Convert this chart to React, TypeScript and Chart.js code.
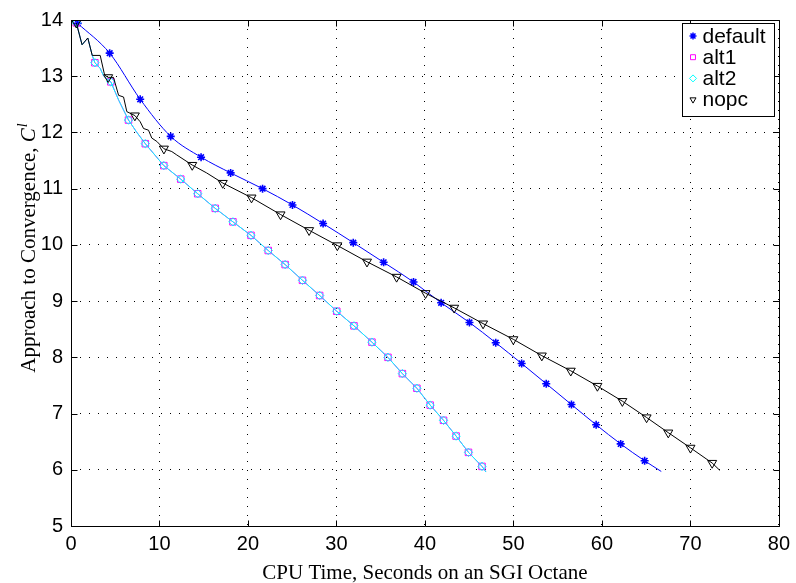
import React, { useEffect, useRef } from 'react';
import { Chart, registerables } from 'chart.js';

Chart.register(...registerables);

// ---------- data ----------
const xTicks = [0, 10, 20, 30, 40, 50, 60, 70, 80];
const yTicks = [5, 6, 7, 8, 9, 10, 11, 12, 13, 14];
const seriesNames = ['default', 'alt1', 'alt2', 'nopc'];

const defaultX = [0.76, 4.37, 7.82, 11.27, 14.7, 18.04, 21.65, 25.03, 28.49, 31.9, 35.33, 38.71, 41.83, 45.03, 48.0, 50.93, 53.71, 56.56, 59.35, 62.12, 64.83, 66.71];
const defaultY = [13.94, 13.41, 12.59, 11.93, 11.56, 11.28, 11.0, 10.71, 10.38, 10.04, 9.69, 9.34, 8.97, 8.62, 8.26, 7.89, 7.53, 7.16, 6.8, 6.46, 6.16, 5.97];
const defaultMark = [1, 1, 1, 1, 1, 1, 1, 1, 1, 1, 1, 1, 1, 1, 1, 1, 1, 1, 1, 1, 1, 0];

const altX = [0.6, 1.25, 1.9, 2.4, 2.7, 3.3, 3.7, 4.5, 5.4, 6.5, 7.4, 8.4, 10.49, 12.4, 14.32, 16.3, 18.3, 20.34, 22.29, 24.2, 26.16, 28.1, 30.03, 31.98, 34.01, 35.82, 37.45, 39.09, 40.59, 42.1, 43.52, 44.92, 46.45, 46.9];
const altY = [13.95, 13.56, 13.68, 13.37, 13.24, 13.14, 13.0, 12.9, 12.57, 12.22, 12.01, 11.8, 11.41, 11.17, 10.91, 10.65, 10.41, 10.17, 9.9, 9.65, 9.37, 9.1, 8.82, 8.56, 8.27, 8.0, 7.71, 7.45, 7.15, 6.88, 6.6, 6.31, 6.06, 5.96];
const altMark = [1, 0, 0, 0, 1, 0, 0, 1, 0, 1, 0, 1, 1, 1, 1, 1, 1, 1, 1, 1, 1, 1, 1, 1, 1, 1, 1, 1, 1, 1, 1, 1, 1, 0];

const nopcX = [0.6, 1.25, 1.9, 2.4, 3.3, 3.8, 4.2, 4.8, 5.38, 5.94, 6.31, 7.22, 7.82, 8.2, 8.76, 9.13, 9.7, 10.5, 11.39, 11.95, 13.7, 15.33, 17.15, 20.4, 23.68, 26.91, 30.1, 33.45, 36.8, 40.07, 43.3, 46.57, 49.99, 53.21, 56.48, 59.49, 62.31, 65.05, 67.5, 70.01, 72.46, 73.32];
const nopcY = [13.95, 13.56, 13.68, 13.37, 13.37, 13.02, 12.98, 12.98, 12.66, 12.63, 12.37, 12.3, 12.19, 12.07, 12.04, 11.9, 11.84, 11.71, 11.66, 11.6, 11.42, 11.28, 11.1, 10.84, 10.54, 10.26, 9.99, 9.7, 9.43, 9.14, 8.88, 8.6, 8.32, 8.03, 7.76, 7.49, 7.22, 6.93, 6.66, 6.39, 6.12, 5.99];
const nopcMark = [1, 0, 0, 0, 0, 0, 1, 0, 0, 0, 0, 1, 0, 0, 0, 0, 0, 1, 0, 0, 1, 0, 1, 1, 1, 1, 1, 1, 1, 1, 1, 1, 1, 1, 1, 1, 1, 1, 1, 1, 1, 0];

// ---------- styling ----------
const SANS = '"Liberation Sans", Arial, Helvetica, sans-serif';
const SERIF = '"Liberation Serif", "Times New Roman", serif';
const colors = ['#0000ff', '#ff00ff', '#00ffff', '#000000'];
const styles = ['star', 'rect', 'rectRot', 'triangleDown'];

function pts(xs: number[], ys: number[]) {
  return xs.map((x, i) => ({ x, y: ys[i] }));
}

function drawMarker(ctx: CanvasRenderingContext2D, style: string, x: number, y: number, r: number, color: string) {
  ctx.save();
  ctx.strokeStyle = color;
  ctx.lineWidth = 1;
  ctx.beginPath();
  if (style === 'star') {
    ctx.lineWidth = 1.5;
    const d = r * Math.SQRT1_2;
    ctx.moveTo(x - r, y); ctx.lineTo(x + r, y);
    ctx.moveTo(x, y - r); ctx.lineTo(x, y + r);
    ctx.moveTo(x - d, y - d); ctx.lineTo(x + d, y + d);
    ctx.moveTo(x - d, y + d); ctx.lineTo(x + d, y - d);
  } else if (style === 'rect') {
    const s = r * Math.SQRT1_2;
    ctx.rect(x - s, y - s, 2 * s, 2 * s);
  } else if (style === 'rectRot') {
    ctx.moveTo(x, y - r); ctx.lineTo(x + r, y); ctx.lineTo(x, y + r); ctx.lineTo(x - r, y); ctx.closePath();
  } else {
    const h = r * Math.sqrt(3) / 2;
    ctx.moveTo(x - h, y - r / 2); ctx.lineTo(x + h, y - r / 2); ctx.lineTo(x, y + r); ctx.closePath();
  }
  ctx.stroke();
  ctx.restore();
}

const decorPlugin = {
  id: 'decor',
  afterDatasetsDraw(chart: any) {
    const ctx: CanvasRenderingContext2D = chart.ctx;
    const { left, right, top, bottom } = chart.chartArea;
    const xs = chart.scales.x;
    const ys = chart.scales.y;
    const L = Math.round(left) + 0.5, R = Math.round(right) + 0.5;
    const T = Math.round(top) + 0.5, B = Math.round(bottom) + 0.5;
    ctx.save();
    ctx.strokeStyle = '#000';
    ctx.lineWidth = 1;
    ctx.setLineDash([]);
    ctx.beginPath();
    ctx.rect(L, T, R - L, B - T);
    const tl = 6;
    xTicks.forEach((v) => {
      const px = Math.round(xs.getPixelForValue(v)) + 0.5;
      ctx.moveTo(px, B); ctx.lineTo(px, B - tl);
      ctx.moveTo(px, T); ctx.lineTo(px, T + tl);
    });
    yTicks.forEach((v) => {
      const py = Math.round(ys.getPixelForValue(v)) + 0.5;
      ctx.moveTo(L, py); ctx.lineTo(L + tl, py);
      ctx.moveTo(R, py); ctx.lineTo(R - tl, py);
    });
    ctx.stroke();

    // legend
    const bx = 682.5, by = 23.5, bw = 92, bh = 93;
    ctx.fillStyle = '#fff';
    ctx.fillRect(bx, by, bw, bh);
    ctx.strokeRect(bx, by, bw, bh);
    ctx.font = `21px ${SANS}`;
    ctx.fillStyle = '#000';
    ctx.textBaseline = 'middle';
    ctx.textAlign = 'left';
    seriesNames.forEach((name, i) => {
      const ry = 36 + i * 21.2;
      drawMarker(ctx, styles[i], 693, ry, 3.5, colors[i]);
      ctx.fillText(name, 702.5, ry + 1);
    });

    // x title
    ctx.font = `21px ${SERIF}`;
    ctx.textAlign = 'center';
    ctx.textBaseline = 'alphabetic';
    ctx.fillText('CPU Time, Seconds on an SGI Octane', (left + right) / 2, 579);

    // y title (rotated, with italic C and superscript l)
    const main = 'Approach to Convergence, ';
    ctx.font = `21px ${SERIF}`;
    const w1 = ctx.measureText(main).width;
    ctx.font = `italic 21px ${SERIF}`;
    const w2 = ctx.measureText('C').width;
    ctx.font = `italic 14px ${SERIF}`;
    const w3 = ctx.measureText('l').width;
    const total = w1 + w2 + w3 + 1;
    ctx.translate(35, 248);
    ctx.rotate(-Math.PI / 2);
    ctx.textAlign = 'left';
    let cx = -total / 2;
    ctx.font = `21px ${SERIF}`;
    ctx.fillText(main, cx, 0);
    cx += w1;
    ctx.font = `italic 21px ${SERIF}`;
    ctx.fillText('C', cx, 0);
    cx += w2 + 1;
    ctx.font = `italic 14px ${SERIF}`;
    ctx.fillText('l', cx, -8);
    ctx.restore();
  },
};

export default function App() {
  const ref = useRef<HTMLCanvasElement>(null);
  useEffect(() => {
    document.body.style.margin = '0';
    const pr = (m: number[], r: number) => m.map((v) => (v ? r : 0));
    const chart = new Chart(ref.current as HTMLCanvasElement, {
      type: 'line',
      data: {
        datasets: [
          {
            label: seriesNames[0],
            data: pts(defaultX, defaultY),
            borderColor: colors[0],
            borderWidth: 1,
            cubicInterpolationMode: 'monotone',
            pointStyle: 'star',
            pointRadius: pr(defaultMark, 4),
            pointBorderWidth: 1.6,
            pointBorderColor: colors[0],
            pointBackgroundColor: colors[0],
            order: 4,
          },
          {
            label: seriesNames[1],
            data: pts(altX, altY),
            borderColor: colors[1],
            borderWidth: 1,
            tension: 0,
            pointStyle: 'rect',
            pointRadius: pr(altMark, 4.6),
            pointBorderWidth: 1,
            pointBorderColor: colors[1],
            pointBackgroundColor: 'rgba(0,0,0,0)',
            order: 3,
          },
          {
            label: seriesNames[2],
            data: pts(altX, altY),
            borderColor: colors[2],
            borderWidth: 1,
            tension: 0,
            pointStyle: 'rectRot',
            pointRadius: pr(altMark, 4.2),
            pointBorderWidth: 1,
            pointBorderColor: colors[2],
            pointBackgroundColor: 'rgba(0,0,0,0)',
            order: 2,
          },
          {
            label: seriesNames[3],
            data: pts(nopcX, nopcY),
            borderColor: colors[3],
            borderWidth: 1,
            tension: 0,
            pointStyle: 'triangle',
            pointRotation: 180,
            pointRadius: pr(nopcMark, 5.2),
            pointBorderWidth: 1,
            pointBorderColor: colors[3],
            pointBackgroundColor: 'rgba(0,0,0,0)',
            order: 1,
          },
        ],
      } as any,
      options: {
        animation: false,
        responsive: false,
        devicePixelRatio: 1,
        parsing: false as any,
        layout: { padding: { top: 16, right: 14, left: 0, bottom: 0 } },
        plugins: { legend: { display: false }, tooltip: { enabled: false } },
        events: [],
        scales: {
          x: {
            type: 'linear',
            min: 0,
            max: 80,
            afterFit: (s: any) => { s.height = 57; },
            afterBuildTicks: (s: any) => { s.ticks = xTicks.map((v) => ({ value: v })); },
            ticks: { color: '#000', font: { family: SANS, size: 20 }, padding: 6, maxRotation: 0, autoSkip: false },
            grid: { color: '#000', lineWidth: 1, drawTicks: false },
            border: { display: false, dash: [1, 8] },
          },
          y: {
            type: 'linear',
            min: 5,
            max: 14,
            afterFit: (s: any) => { s.width = 71; },
            afterBuildTicks: (s: any) => { s.ticks = yTicks.map((v) => ({ value: v })); },
            ticks: { color: '#000', font: { family: SANS, size: 20 }, padding: 8, autoSkip: false },
            grid: { color: '#000', lineWidth: 1, drawTicks: false },
            border: { display: false, dash: [1, 8] },
          },
        },
      } as any,
      plugins: [decorPlugin],
    });
    return () => chart.destroy();
  }, []);
  return (
    <div style={{ width: 796, height: 583, background: '#fff' }}>
      <canvas ref={ref} width={796} height={583} style={{ display: 'block' }} />
    </div>
  );
}
